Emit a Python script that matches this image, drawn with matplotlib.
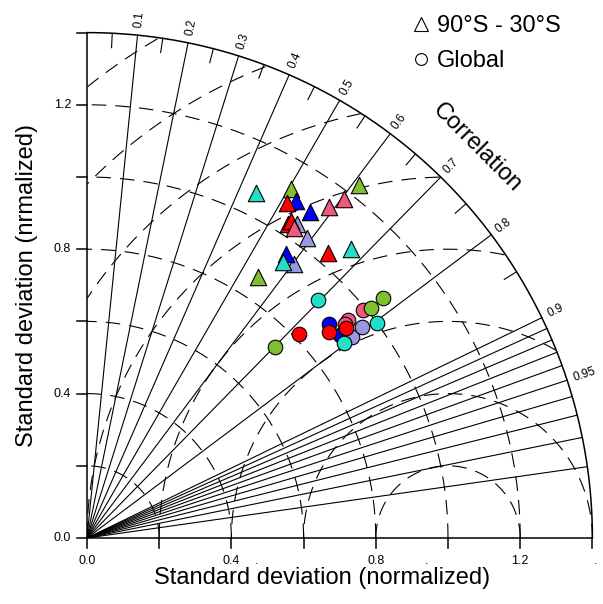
import numpy as np
import matplotlib.pyplot as plt
from matplotlib.lines import Line2D

plt.rcParams['font.family'] = ['Liberation Sans', 'DejaVu Sans']
plt.rcParams['lines.scale_dashes'] = False

# colours of the six models
RED, BLUE, GREEN = '#FF0000', '#0000FF', '#80C030'
CYAN, PINK, LAV = '#22DFC8', '#F0587E', '#9898E0'

# 90S-30S (triangles): normalized std, correlation, colour
tri_sd = [1.120, 1.234, 0.865, 1.047, 1.030, 0.951, 1.099, 1.094, 0.961,
          1.081, 1.033, 1.044, 1.034, 1.178, 1.136, 1.033, 1.064, 1.084, 0.938]
tri_cc = [0.505, 0.610, 0.548, 0.556, 0.591, 0.603, 0.527, 0.565, 0.574,
          0.513, 0.539, 0.541, 0.646, 0.604, 0.590, 0.555, 0.440, 0.675, 0.579]
tri_col = [GREEN, GREEN, GREEN, LAV, LAV, LAV, BLUE, BLUE, BLUE,
           RED, RED, RED, RED, PINK, PINK, PINK, CYAN, CYAN, CYAN]

# Global (circles)
circ_sd = [0.992, 0.942, 0.929, 0.895, 0.898, 0.921, 0.960,
           0.815, 0.880, 0.924, 0.919, 1.000, 0.894, 1.056, 1.012, 0.742]
circ_cc = [0.771, 0.767, 0.770, 0.749, 0.780, 0.797, 0.794,
           0.720, 0.761, 0.776, 0.697, 0.803, 0.797, 0.777, 0.778, 0.702]
circ_col = [PINK, PINK, PINK, BLUE, BLUE, LAV, LAV,
            RED, RED, RED, CYAN, CYAN, CYAN, GREEN, GREEN, GREEN]

corr_lines = [0.1, 0.2, 0.3, 0.4, 0.5, 0.6, 0.7, 0.8, 0.9,
              0.91, 0.92, 0.93, 0.94, 0.95, 0.96, 0.97, 0.98, 0.99]
corr_labels = [0.1, 0.2, 0.3, 0.4, 0.5, 0.6, 0.7, 0.8, 0.9, 0.95]
corr_minor = [0.05, 0.15, 0.25, 0.35, 0.45, 0.55, 0.65, 0.75, 0.85]
sd_ticks = [0.0, 0.2, 0.4, 0.6, 0.8, 1.0, 1.2, 1.4]
sd_labels = ['0.0', '', '0.4', '', '0.8', '', '1.2', '']
sd_circles = [0.2, 0.4, 0.6, 0.8, 1.0, 1.2]
rms_circles = [0.2, 0.4, 0.6, 0.8, 1.0, 1.2, 1.4, 1.6]
RMAX = 1.4

fig = plt.figure(figsize=(6.03, 6.04), dpi=100)
ax = fig.add_axes([87 / 603, 66 / 604, 505.4 / 603, 505.4 / 604])
ax.set_xlim(0, RMAX)
ax.set_ylim(0, RMAX)
ax.set_aspect('equal')
ax.axis('off')

dash = (0, (10.5, 6.5))
lw = 0.8

# std circles around origin
t = np.linspace(0, np.pi / 2, 300)
for r in sd_circles:
    ax.plot(r * np.cos(t), r * np.sin(t), color='k', lw=lw, ls=dash)

# rms circles around the reference point
t2 = np.linspace(0, np.pi, 600)
for r in rms_circles:
    x = 1 + r * np.cos(t2)
    y = r * np.sin(t2)
    bad = (x < 0) | (x ** 2 + y ** 2 > RMAX ** 2)
    x[bad] = np.nan
    y[bad] = np.nan
    ax.plot(x, y, color='k', lw=lw, ls=dash)

# correlation rays
for c in corr_lines:
    a = np.arccos(c)
    ax.plot([0, RMAX * np.cos(a)], [0, RMAX * np.sin(a)], color='k', lw=lw)
for c in corr_minor:
    a = np.arccos(c)
    ax.plot([1.36 * np.cos(a), RMAX * np.cos(a)], [1.36 * np.sin(a), RMAX * np.sin(a)],
            color='k', lw=lw)
for c in corr_labels:
    a = np.arccos(c)
    ax.text(1.42 * np.cos(a), 1.42 * np.sin(a), str(c), rotation=np.degrees(a),
            rotation_mode='anchor', ha='left', va='center', fontsize=8.5)

# outer frame
t3 = np.linspace(0, np.pi / 2, 400)
ax.plot(RMAX * np.cos(t3), RMAX * np.sin(t3), color='k', lw=1.1, clip_on=False)
ax.plot([0, RMAX], [0, 0], color='k', lw=1.1, clip_on=False)
ax.plot([0, 0], [0, RMAX], color='k', lw=1.1, clip_on=False)

tk = 10 / 361
for v, lab in zip(sd_ticks, sd_labels):
    ax.plot([v, v], [0, -tk], color='k', lw=1.1, clip_on=False)
    ax.plot([0, -tk], [v, v], color='k', lw=1.1, clip_on=False)
    if lab:
        ax.text(v, -23.5 / 361, lab, ha='center', va='center', fontsize=9)
        ax.text(-16 / 361, v, lab, ha='right', va='center', fontsize=9)
for v in [0.47, 0.94, 1.41]:
    ax.text(v, -23.5 / 361, '.', ha='center', va='center', fontsize=9)

ax.text(0.65, -40 / 361, 'Standard deviation (normalized)', ha='center', va='center',
        fontsize=17)
ax.text(-60 / 361, 0.70, 'Standard deviation (nrmalized)', ha='center', va='center',
        rotation=90, fontsize=17)
ax.text(1.08, 1.08, 'Correlation', ha='center', va='center', rotation=-45, fontsize=17)

# data
tri_x = np.array(tri_sd) * np.array(tri_cc)
tri_y = np.array(tri_sd) * np.sqrt(1 - np.array(tri_cc) ** 2)
circ_x = np.array(circ_sd) * np.array(circ_cc)
circ_y = np.array(circ_sd) * np.sqrt(1 - np.array(circ_cc) ** 2)

for x, y, c in zip(tri_x, tri_y, tri_col):
    ax.scatter(x, y, s=140, marker='^', c=c, edgecolors='k', linewidths=0.8, zorder=5)
for x, y, c in zip(circ_x, circ_y, circ_col):
    ax.scatter(x, y, s=110, marker='o', c=c, edgecolors='k', linewidths=0.8, zorder=5)

handles = [Line2D([], [], ls='none', marker='^', ms=10, mfc='white', mec='k', mew=0.8),
           Line2D([], [], ls='none', marker='o', ms=8.5, mfc='white', mec='k', mew=0.8)]
fig.legend(handles, ['90°S - 30°S', 'Global'], loc='upper left',
           bbox_to_anchor=(409 / 603, 1 - 15 / 604), frameon=False, fontsize=17,
           handlelength=1.0, handletextpad=0.2, labelspacing=0.56, borderpad=0,
           borderaxespad=0)

fig.savefig('out.png', dpi=100)
